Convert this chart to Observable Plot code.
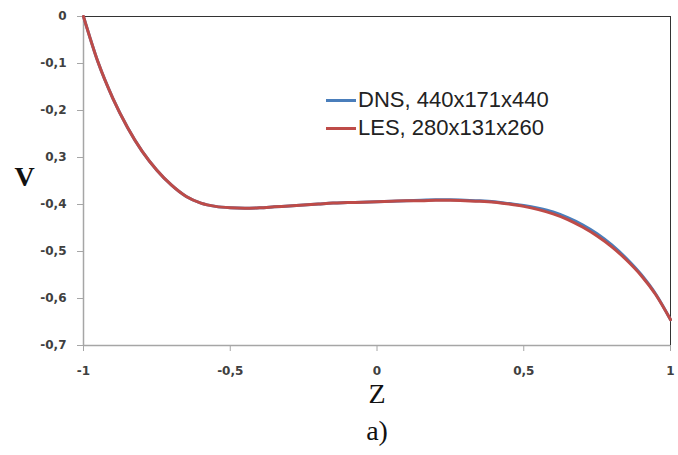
<!DOCTYPE html>
<html><head><meta charset="utf-8">
<script src="https://cdn.jsdelivr.net/npm/d3@7"></script>
<script src="https://cdn.jsdelivr.net/npm/@observablehq/plot@0.6"></script>
<style>
body{margin:0;background:#fff}
#wrap{position:relative;width:678px;height:455px}
.leg{position:absolute;left:326px;height:22px;font:22px 'Liberation Sans',sans-serif;color:#222;display:flex;align-items:center;white-space:nowrap;line-height:1}
.leg span{display:inline-block;width:30px;height:3px;margin-right:2px}
</style>
</head><body><div id="wrap"></div>
<script>
const z = [-1,-0.95,-0.9,-0.85,-0.8,-0.75,-0.7,-0.65,-0.6,-0.55,-0.5,-0.45,-0.4,-0.35,-0.3,-0.25,-0.2,-0.15,-0.1,-0.05,0,0.05,0.1,0.15,0.2,0.25,0.3,0.35,0.4,0.45,0.5,0.55,0.6,0.65,0.7,0.75,0.8,0.85,0.9,0.95,1];
const les = [0,-0.098,-0.174,-0.236,-0.287,-0.327,-0.359,-0.383,-0.397,-0.404,-0.407,-0.408,-0.407,-0.405,-0.403,-0.401,-0.399,-0.397,-0.396,-0.395,-0.394,-0.393,-0.392,-0.392,-0.391,-0.391,-0.392,-0.393,-0.395,-0.399,-0.404,-0.411,-0.420,-0.432,-0.448,-0.467,-0.490,-0.518,-0.551,-0.592,-0.645];
const dns = [0,-0.098,-0.174,-0.236,-0.287,-0.327,-0.359,-0.383,-0.397,-0.404,-0.407,-0.408,-0.407,-0.405,-0.403,-0.401,-0.399,-0.397,-0.396,-0.395,-0.394,-0.393,-0.392,-0.391,-0.390,-0.390,-0.391,-0.392,-0.394,-0.398,-0.402,-0.408,-0.416,-0.428,-0.443,-0.462,-0.486,-0.515,-0.549,-0.591,-0.645];
const seriesNames = ["DNS, 440x171x440","LES, 280x131x260"];
const seriesColors = ["#4a7ebb","#be4b48"];
const xTicks = [-1,-0.5,0,0.5,1];
const xTickLabels = ["-1","-0,5","0","0,5","1"];
const yTicks = [0,-0.1,-0.2,-0.3,-0.4,-0.5,-0.6,-0.7];
const yTickLabels = ["0","-0,1","-0,2","0,3","-0,4","-0,5","-0,6","-0,7"];
const xName = "Z", yName = "V", caption = "a)";

const data = [];
[dns, les].forEach((vals, k) => z.forEach((zz, i) => data.push({series: seriesNames[k], z: zz, v: vals[i]})));

const axisGray = "#a6a6a6", labelColor = "#404040";
const serif = "'Liberation Serif', serif";
const chart = Plot.plot({
  width: 678, height: 455,
  marginLeft: 83, marginRight: 8, marginTop: 16, marginBottom: 110,
  style: {fontFamily: "'DejaVu Sans', sans-serif", background: "#fff"},
  x: {domain: [-1, 1]},
  y: {domain: [-0.7, 0]},
  color: {domain: seriesNames, range: seriesColors},
  marks: [
    Plot.frame({stroke: "#333"}),
    Plot.ruleX([-1], {stroke: axisGray, strokeWidth: 1.5}),
    Plot.ruleY([-0.7], {stroke: axisGray, strokeWidth: 1.5}),
    Plot.axisX(xTicks, {tickFormat: d => xTickLabels[xTicks.indexOf(d)], tickSize: 6, tickPadding: 15, stroke: axisGray, fill: labelColor, fontSize: 12, fontWeight: "bold", label: null}),
    Plot.axisY(yTicks, {tickFormat: d => yTickLabels[yTicks.indexOf(d)], tickSize: 6, tickPadding: 11, stroke: axisGray, fill: labelColor, fontSize: 12, fontWeight: "bold", label: null}),
    Plot.line(data, {x: "z", y: "v", stroke: "series", strokeWidth: 3, curve: "monotone-x"}),
    Plot.text([yName], {frameAnchor: "left", textAnchor: "middle", dx: -59, dy: -4, fontFamily: serif, fontWeight: "bold", fontSize: 28, fill: "#111"}),
    Plot.text([xName], {frameAnchor: "bottom", dy: 57, fontFamily: serif, fontSize: 28, fill: "#111"}),
    Plot.text([caption], {frameAnchor: "bottom", dy: 94, fontFamily: serif, fontSize: 28, fill: "#111"})
  ]
});
const wrap = document.getElementById("wrap");
wrap.appendChild(chart);
seriesNames.forEach((n, i) => {
  const d = document.createElement("div");
  d.className = "leg";
  d.style.top = (89 + 28 * i) + "px";
  d.innerHTML = `<span style="background:${seriesColors[i]}"></span>`;
  d.appendChild(document.createTextNode(n));
  wrap.appendChild(d);
});
</script>
</body></html>
